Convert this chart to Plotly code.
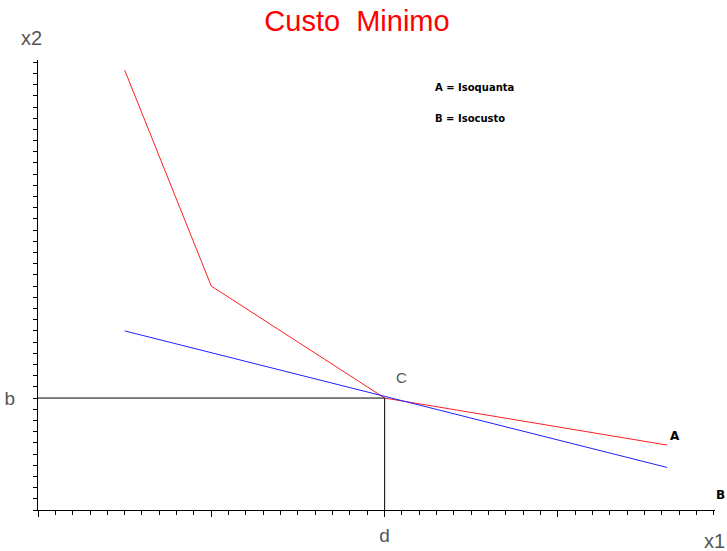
import plotly.graph_objects as go

# Isoquant (A)
iso_x = [0.5, 1.0, 2.0, 3.63]
iso_y = [3.93, 2.0, 1.0, 0.58]
# Isocost (B)
cost_x = [0.5, 3.63]
cost_y = [1.6, 0.38]
# Optimum point C
c_x, c_y = 2.0, 1.0

x_tickvals = [0, 1, 2, 3]
x_ticktext = ["", "", "d", ""]
y_tickvals = [1]
y_ticktext = ["b"]

X_MAX, Y_MAX = 3.906, 4.02

fig = go.Figure()
fig.add_trace(go.Scatter(x=iso_x, y=iso_y, mode="lines", line=dict(color="#ff2020", width=1), showlegend=False))
fig.add_trace(go.Scatter(x=cost_x, y=cost_y, mode="lines", line=dict(color="#2020ff", width=1), showlegend=False))
fig.add_trace(go.Scatter(x=[0, c_x, c_x], y=[c_y, c_y, 0], mode="lines", line=dict(color="#000000", width=1), showlegend=False))

font = "Liberation Sans, Arial, sans-serif"
bfont = "DejaVu Sans, sans-serif"
fig.update_layout(
    width=727, height=551,
    margin=dict(l=38, r=12, t=60, b=41, autoexpand=False),
    plot_bgcolor="white", paper_bgcolor="white",
    title=dict(text="Custo\u00a0 Minimo", x=357 / 727, xref="container", xanchor="center",
               y=1 - 21 / 551, yref="container", yanchor="middle",
               font=dict(color="#ff0000", size=29, family=font)),
    xaxis=dict(range=[0, X_MAX], showgrid=False, zeroline=False, showline=True, linecolor="#000",
               automargin=False,
               tickmode="array", tickvals=x_tickvals, ticktext=x_ticktext,
               ticks="outside", ticklen=6, tickcolor="#000", ticklabelstandoff=2,
               tickfont=dict(size=19, color="#555", family=font),
               minor=dict(dtick=0.1, tick0=0, ticks="outside", ticklen=4, tickcolor="#000")),
    yaxis=dict(range=[0, Y_MAX], showgrid=False, zeroline=False, showline=True, linecolor="#000",
               automargin=False,
               tickmode="array", tickvals=y_tickvals, ticktext=y_ticktext,
               ticks="outside", ticklen=4, tickcolor="#000", ticklabelstandoff=14,
               tickfont=dict(size=19, color="#555", family=font),
               minor=dict(dtick=0.1, tick0=0, ticks="outside", ticklen=4, tickcolor="#000")),
)

PW, PH = 727 - 38 - 12, 551 - 60 - 41
ann = [
    dict(text="x2", x=31, y=38, size=20, color="#555", bold=False, anchor="center", fam=font),
    dict(text="x1", x=727, y=541, size=20, color="#555", bold=False, anchor="right", fam=font),
    dict(text="C", x=401, y=377, size=15, color="#555", bold=False, anchor="center", fam=font),
    dict(text="A", x=675, y=436, size=12, color="#000", bold=True, anchor="center", fam=bfont),
    dict(text="B", x=727, y=495, size=12, color="#000", bold=True, anchor="right", fam=bfont),
]
for a in ann:
    fig.add_annotation(text=("<b>%s</b>" % a["text"]) if a["bold"] else a["text"],
                       xref="paper", yref="paper",
                       x=(a["x"] - 38) / PW, y=(551 - 41 - a["y"]) / PH,
                       xanchor=a["anchor"], yanchor="middle", showarrow=False,
                       font=dict(size=a["size"], color=a["color"], family=a["fam"]))

legend_lines = ["A = Isoquanta", "B = Isocusto"]
for txt, py in zip(legend_lines, [88, 118]):
    fig.add_annotation(text="<b>%s</b>" % txt, xref="paper", yref="paper",
                       x=(433 - 38) / PW, y=(510 - py) / PH, xanchor="left", yanchor="middle",
                       showarrow=False, font=dict(size=10, color="#000", family=bfont))

fig.write_html("out.html", config={"displayModeBar": False},
               post_script="document.documentElement.style.margin='0';document.body.style.margin='0';"
                           "document.body.style.overflow='hidden';")
